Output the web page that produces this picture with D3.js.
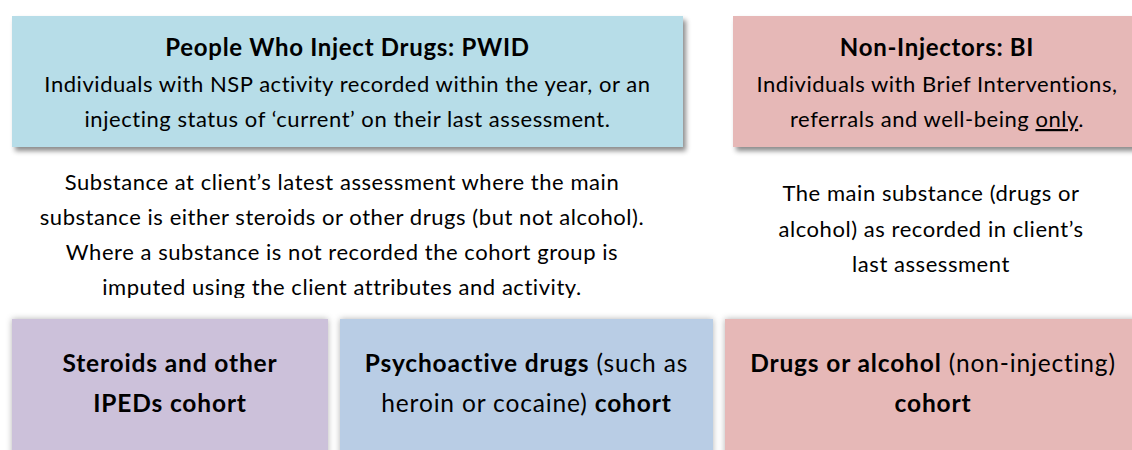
<!DOCTYPE html>
<html>
<head>
<meta charset="utf-8">
<script src="https://cdn.jsdelivr.net/npm/d3@7"></script>
<style>
  html, body { margin: 0; padding: 0; background: #fff; }
  svg { display: block; }
  text { font-family: Lato, "Open Sans", sans-serif; fill: #000; }
</style>
</head>
<body>
<svg id="chart" width="1132" height="450"></svg>
<script>
// ---- content (text only) ----
const topBoxTitles = ["People Who Inject Drugs: PWID", "Non-Injectors: BI"];
const topBoxLines = [
  [[["Individuals with NSP activity recorded within the year, or an", 0, 0]],
   [["injecting status of \u2018current\u2019 on their last assessment.", 0, 0]]],
  [[["Individuals with Brief Interventions,", 0, 0]],
   [["referrals and well-being ", 0, 0], ["only", 0, 1], [".", 0, 0]]]
];
const descriptionLines = [
  ["Substance at client\u2019s latest assessment where the main",
   "substance is either steroids or other drugs (but not alcohol).",
   "Where a substance is not recorded the cohort group is",
   "imputed using the client attributes and activity."],
  ["The main substance (drugs or",
   "alcohol) as recorded in client\u2019s",
   "last assessment"]
];
const cohortLabels = [
  [[["Steroids and other", 1, 0]], [["IPEDs cohort", 1, 0]]],
  [[["Psychoactive drugs", 1, 0], [" (such as", 0, 0]], [["heroin or cocaine) ", 0, 0], ["cohort", 1, 0]]],
  [[["Drugs or alcohol", 1, 0], [" (non-injecting)", 0, 0]], [["cohort", 1, 0]]]
];

// ---- layout ----
const W = 1132, H = 450;
const svg = d3.select("#chart");
const defs = svg.append("defs");
const sh1 = defs.append("filter").attr("id", "shTop").attr("x", "-5%").attr("y", "-10%").attr("width", "115%").attr("height", "130%");
sh1.append("feDropShadow").attr("dx", 3).attr("dy", 4).attr("stdDeviation", 2.5).attr("flood-color", "#000").attr("flood-opacity", 0.45);
const sh2 = defs.append("filter").attr("id", "shBot").attr("x", "-5%").attr("y", "-10%").attr("width", "110%").attr("height", "130%");
sh2.append("feDropShadow").attr("dx", 0).attr("dy", 0).attr("stdDeviation", 3).attr("flood-color", "#000").attr("flood-opacity", 0.3);
defs.append("clipPath").attr("id", "descClip").append("rect").attr("x", 0).attr("y", 0).attr("width", W).attr("height", 298);

const topColors = ["#b7dde8", "#e6b8b7"];
const topGeom = [{x: 12, y: 16, w: 671, h: 131}, {x: 733, y: 16, w: 410, h: 131}];
const botColors = ["#ccc1da", "#b9cde5", "#e6b8b7"];
const botGeom = [{x: 12, y: 319, w: 316, h: 140}, {x: 340, y: 319, w: 373, h: 140}, {x: 725, y: 319, w: 418, h: 140}];

const BODY = {size: 22, ls: 0.55};
const TITLE = {size: 24, ls: 0.7};
const COHORT = {size: 24.5, ls: 0.85};

function richLine(sel, segs, st) {
  sel.attr("font-size", st.size).attr("letter-spacing", st.ls);
  segs.forEach(([t, b, u]) => {
    sel.append("tspan").text(t)
      .attr("font-weight", b ? 700 : 400)
      .attr("text-decoration", u ? "underline" : null);
  });
}

// top boxes
topBoxTitles.forEach((title, i) => {
  const g = topGeom[i];
  svg.append("rect").attr("x", g.x).attr("y", g.y).attr("width", g.w).attr("height", g.h)
    .attr("fill", topColors[i]).attr("filter", "url(#shTop)");
  const cx = i === 0 ? g.x + g.w / 2 : 937;
  svg.append("text").attr("x", cx).attr("y", 56).attr("text-anchor", "middle")
    .attr("font-size", TITLE.size).attr("letter-spacing", TITLE.ls).attr("font-weight", 700).text(title);
  topBoxLines[i].forEach((segs, j) => {
    const t = svg.append("text").attr("x", cx).attr("y", 92 + j * 35)
      .attr("text-anchor", "middle");
    richLine(t, segs, BODY);
  });
});
// description text
const descG = svg.append("g").attr("clip-path", "url(#descClip)");
descriptionLines[0].forEach((line, j) => {
  descG.append("text").attr("x", 342).attr("y", 190 + j * 35).attr("text-anchor", "middle")
    .attr("font-size", BODY.size).attr("letter-spacing", BODY.ls).text(line);
});
descriptionLines[1].forEach((line, j) => {
  descG.append("text").attr("x", 931).attr("y", 201 + j * 35.5).attr("text-anchor", "middle")
    .attr("font-size", BODY.size).attr("letter-spacing", BODY.ls).text(line);
});

// bottom boxes
cohortLabels.forEach((lines, i) => {
  const g = botGeom[i];
  svg.append("rect").attr("x", g.x).attr("y", g.y).attr("width", g.w).attr("height", g.h)
    .attr("fill", botColors[i]).attr("filter", "url(#shBot)");
});
cohortLabels.forEach((lines, i) => {
  const g = botGeom[i];
  const cx = i === 2 ? 933 : g.x + g.w / 2;
  lines.forEach((segs, j) => {
    const t = svg.append("text").attr("x", cx).attr("y", 372 + j * 39.5)
      .attr("text-anchor", "middle");
    richLine(t, segs, COHORT);
  });
});
</script>
</body>
</html>
